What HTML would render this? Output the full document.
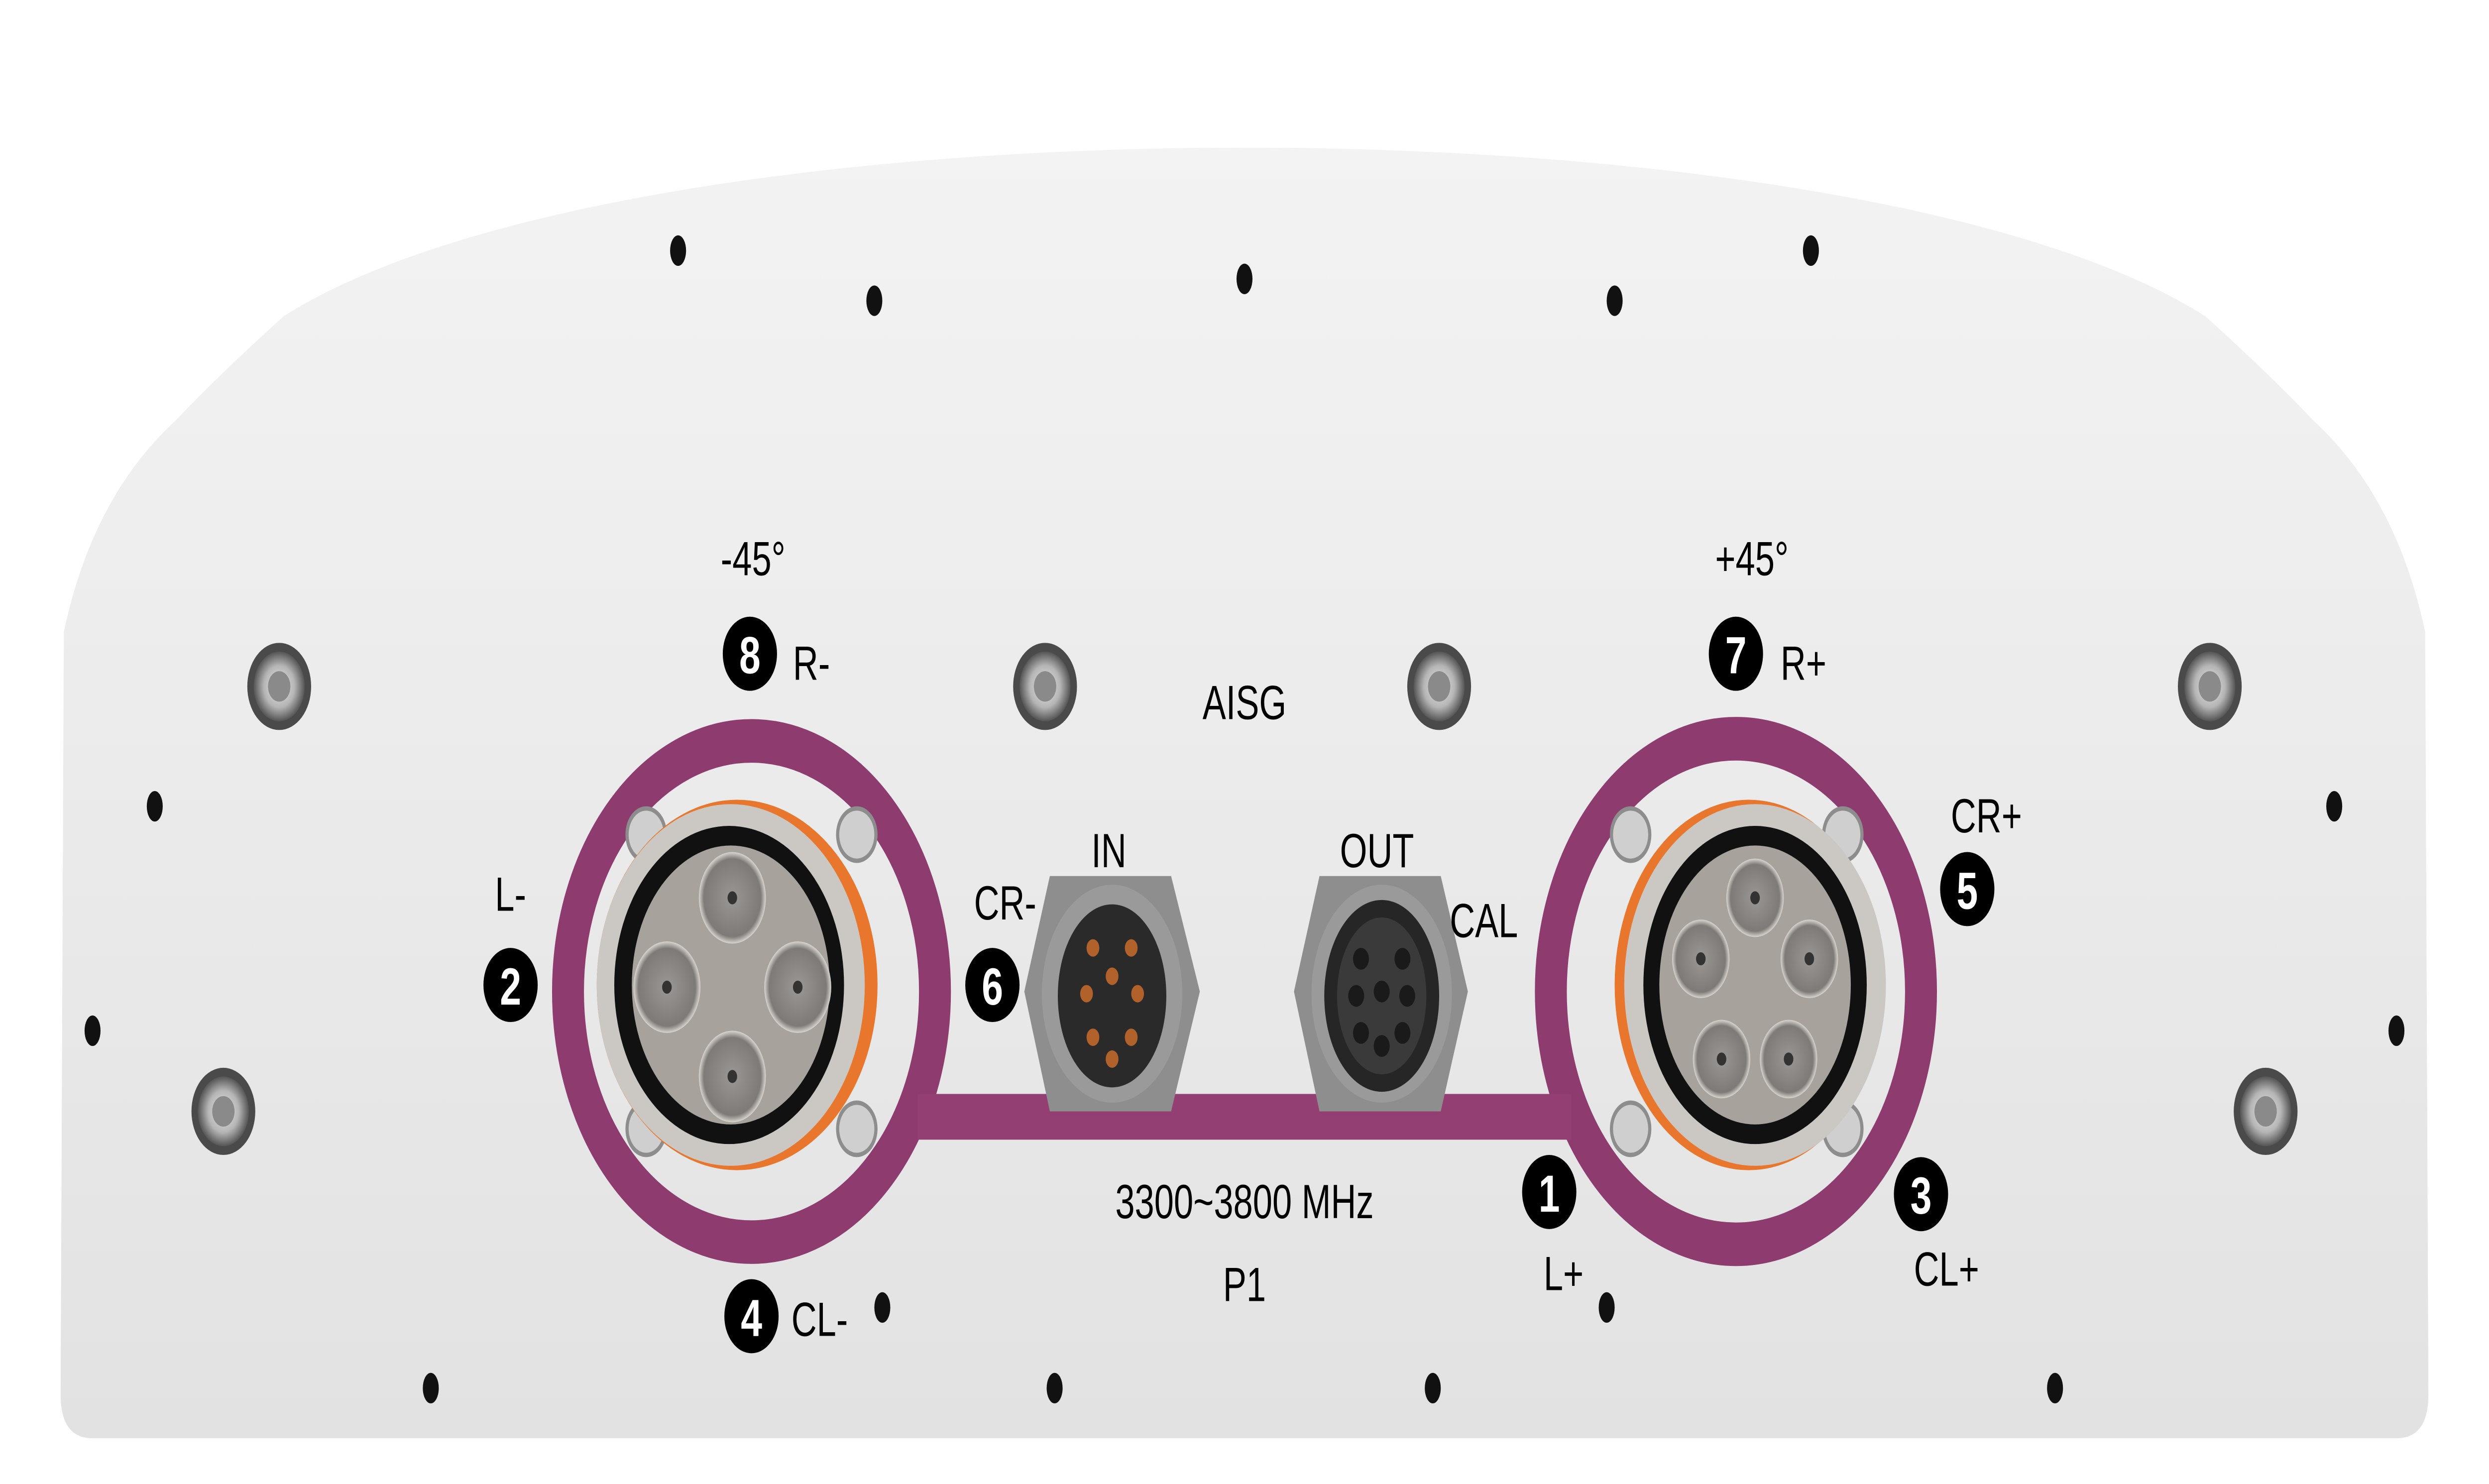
<!DOCTYPE html>
<html><head><meta charset="utf-8"><style>
html,body{margin:0;padding:0;background:#fff;width:100%;height:100%;overflow:hidden}
svg{display:block;position:fixed;left:0;top:0;width:100vw;height:100vh}
text{font-family:"Liberation Sans",Arial,sans-serif;fill:#000}
</style></head><body>
<svg viewBox="0 0 1560 681" preserveAspectRatio="none" xmlns="http://www.w3.org/2000/svg">
<defs>
<linearGradient id="body" x1="0" y1="0" x2="0" y2="1">
<stop offset="0" stop-color="#f3f3f3"/><stop offset="0.6" stop-color="#e9e9e9"/><stop offset="1" stop-color="#e2e2e2"/>
</linearGradient>
<radialGradient id="scr"><stop offset="0" stop-color="#e8e8e8"/><stop offset="0.6" stop-color="#b5b5b5"/><stop offset="1" stop-color="#555"/></radialGradient>
<radialGradient id="pin"><stop offset="0" stop-color="#9a9794"/><stop offset="0.85" stop-color="#7d7a77"/><stop offset="1" stop-color="#d8d5d0"/></radialGradient>
</defs>
<rect width="1560" height="681" fill="#fff"/>
<path d="M40 290 Q58 228 110 193 Q140 170 178 145 C400 42 1160 42 1382 145 Q1420 170 1450 193 Q1502 228 1520 290 L1522 640 Q1522 660 1502 660 L58 660 Q38 660 38 640 Z" fill="url(#body)"/>
<g fill="#111">
<ellipse cx="425" cy="115" rx="5" ry="7"/><ellipse cx="548" cy="138" rx="5" ry="7"/><ellipse cx="780" cy="128" rx="5" ry="7"/><ellipse cx="1012" cy="138" rx="5" ry="7"/><ellipse cx="1135" cy="115" rx="5" ry="7"/>
<ellipse cx="97" cy="370" rx="5" ry="7"/><ellipse cx="1463" cy="370" rx="5" ry="7"/><ellipse cx="58" cy="473" rx="5" ry="7"/><ellipse cx="1502" cy="473" rx="5" ry="7"/>
<ellipse cx="270" cy="637" rx="5" ry="7"/><ellipse cx="661" cy="637" rx="5" ry="7"/><ellipse cx="898" cy="637" rx="5" ry="7"/><ellipse cx="1288" cy="637" rx="5" ry="7"/>
<ellipse cx="553" cy="600" rx="5" ry="7"/><ellipse cx="1007" cy="600" rx="5" ry="7"/>
</g>
<g>
<circle cx="175" cy="315" r="20" fill="#4a4a4a"/><circle cx="175" cy="315" r="16" fill="url(#scr)"/><circle cx="175" cy="315" r="7" fill="#8a8a8a"/>
<circle cx="655" cy="315" r="20" fill="#4a4a4a"/><circle cx="655" cy="315" r="16" fill="url(#scr)"/><circle cx="655" cy="315" r="7" fill="#8a8a8a"/>
<circle cx="902" cy="315" r="20" fill="#4a4a4a"/><circle cx="902" cy="315" r="16" fill="url(#scr)"/><circle cx="902" cy="315" r="7" fill="#8a8a8a"/>
<circle cx="1385" cy="315" r="20" fill="#4a4a4a"/><circle cx="1385" cy="315" r="16" fill="url(#scr)"/><circle cx="1385" cy="315" r="7" fill="#8a8a8a"/>
<circle cx="140" cy="510" r="20" fill="#4a4a4a"/><circle cx="140" cy="510" r="16" fill="url(#scr)"/><circle cx="140" cy="510" r="7" fill="#8a8a8a"/>
<circle cx="1420" cy="510" r="20" fill="#4a4a4a"/><circle cx="1420" cy="510" r="16" fill="url(#scr)"/><circle cx="1420" cy="510" r="7" fill="#8a8a8a"/>
</g>
<g stroke="#8e3b6f" fill="none">
<circle cx="471" cy="455" r="115" stroke-width="20"/>
<circle cx="1088" cy="455" r="116" stroke-width="20"/>
</g>
<rect x="575" y="502" width="410" height="21" fill="#933f73"/>
<g fill="#cfcfcf" stroke="#8d8d8d" stroke-width="2">
<circle cx="405" cy="383" r="12"/><circle cx="537" cy="383" r="12"/><circle cx="405" cy="518" r="12"/><circle cx="537" cy="518" r="12"/>
<circle cx="1022" cy="383" r="12"/><circle cx="1155" cy="383" r="12"/><circle cx="1022" cy="518" r="12"/><circle cx="1155" cy="518" r="12"/>
</g>
<ellipse cx="462" cy="452" rx="88" ry="85" fill="#e8762c"/>
<ellipse cx="458" cy="452" rx="84" ry="83" fill="#cbc7c2"/>
<ellipse cx="457" cy="452" rx="72" ry="73" fill="#111"/>
<ellipse cx="458" cy="452" rx="62" ry="64" fill="#a7a29c"/>
<g fill="url(#pin)"><circle cx="459" cy="412" r="21"/><circle cx="459" cy="494" r="21"/><circle cx="418" cy="453" r="21"/><circle cx="500" cy="453" r="21"/></g>
<g fill="#333"><circle cx="459" cy="412" r="3"/><circle cx="459" cy="494" r="3"/><circle cx="418" cy="453" r="3"/><circle cx="500" cy="453" r="3"/></g>
<ellipse cx="1096" cy="452" rx="84" ry="85" fill="#e8762c"/>
<ellipse cx="1100" cy="452" rx="82" ry="83" fill="#cbc7c2"/>
<ellipse cx="1100" cy="452" rx="70" ry="73" fill="#111"/>
<ellipse cx="1100" cy="452" rx="60" ry="64" fill="#a7a29c"/>
<g fill="url(#pin)"><circle cx="1100" cy="412" r="18"/><circle cx="1066" cy="440" r="18"/><circle cx="1134" cy="440" r="18"/><circle cx="1079" cy="486" r="18"/><circle cx="1121" cy="486" r="18"/></g>
<g fill="#333"><circle cx="1100" cy="412" r="3"/><circle cx="1066" cy="440" r="3"/><circle cx="1134" cy="440" r="3"/><circle cx="1079" cy="486" r="3"/><circle cx="1121" cy="486" r="3"/></g>
<path d="M658 402 L734 402 L752 455 L734 510 L658 510 L642 455 Z" fill="#8e8e8e"/>
<ellipse cx="697" cy="456" rx="44" ry="50" fill="#9a9a9a"/>
<ellipse cx="697" cy="457" rx="34" ry="42" fill="#2a2a2a"/>
<g fill="#b0622a"><circle cx="685" cy="435" r="4"/><circle cx="709" cy="435" r="4"/><circle cx="697" cy="448" r="4"/><circle cx="681" cy="456" r="4"/><circle cx="713" cy="456" r="4"/><circle cx="685" cy="476" r="4"/><circle cx="709" cy="476" r="4"/><circle cx="697" cy="486" r="4"/></g>
<path d="M827 402 L903 402 L920 455 L903 510 L827 510 L811 455 Z" fill="#8e8e8e"/>
<ellipse cx="866" cy="456" rx="44" ry="50" fill="#9a9a9a"/>
<ellipse cx="866" cy="457" rx="36" ry="44" fill="#262626"/>
<ellipse cx="866" cy="457" rx="28" ry="36" fill="#3a3a3a"/>
<g fill="#1a1a1a"><circle cx="853" cy="440" r="5"/><circle cx="879" cy="440" r="5"/><circle cx="866" cy="455" r="5"/><circle cx="850" cy="457" r="5"/><circle cx="882" cy="457" r="5"/><circle cx="853" cy="474" r="5"/><circle cx="879" cy="474" r="5"/><circle cx="866" cy="480" r="5"/></g>
<g fill="#000">
<circle cx="470" cy="300" r="17"/><circle cx="1088" cy="300" r="17"/><circle cx="320" cy="452" r="17"/><circle cx="622" cy="452" r="17"/><circle cx="1233" cy="408" r="17"/><circle cx="971" cy="547" r="17"/><circle cx="1204" cy="548" r="17"/><circle cx="471" cy="604" r="17"/>
</g>
<g font-size="24" font-weight="bold" text-anchor="middle">
<text x="470" y="309" style="fill:#fff">8</text><text x="1088" y="309" style="fill:#fff">7</text><text x="320" y="461" style="fill:#fff">2</text><text x="622" y="461" style="fill:#fff">6</text><text x="1233" y="417" style="fill:#fff">5</text><text x="971" y="556" style="fill:#fff">1</text><text x="1204" y="557" style="fill:#fff">3</text><text x="471" y="613" style="fill:#fff">4</text>
</g>
<g font-size="22" text-anchor="middle">
<text x="472" y="264">-45°</text><text x="1098" y="264">+45°</text>
<text x="780" y="330">AISG</text>
<text x="320" y="418">L-</text>
<text x="630" y="422">CR-</text>
<text x="695" y="398">IN</text><text x="863" y="398">OUT</text><text x="930" y="430">CAL</text>
<text x="1245" y="382">CR+</text>
<text x="980" y="592">L+</text><text x="1220" y="590">CL+</text>
<text x="780" y="559">3300~3800 MHz</text><text x="780" y="597">P1</text>
</g>
<g font-size="22"><text x="497" y="312">R-</text><text x="1116" y="312">R+</text><text x="496" y="613">CL-</text></g>
</svg>
</body></html>
